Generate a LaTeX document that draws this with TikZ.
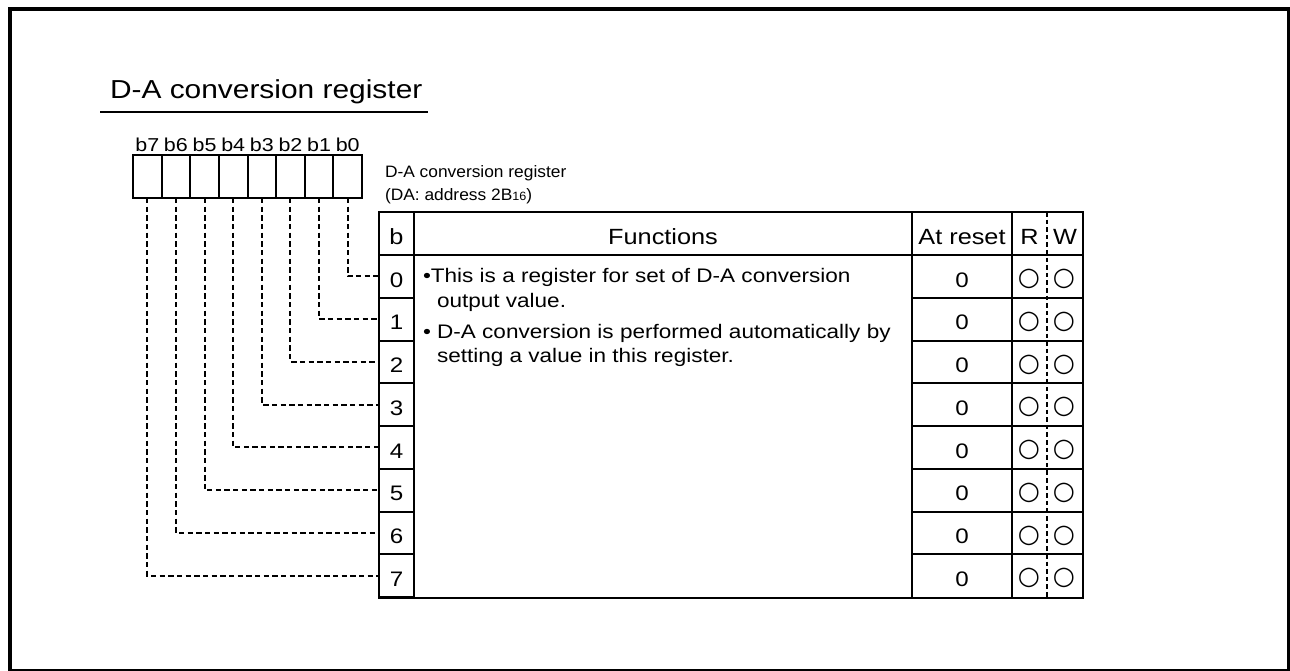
\documentclass[tikz,border=0pt]{standalone}
\usepackage{fontspec}
\setmainfont{Liberation Sans}[FakeStretch=1.15]
\newfontfamily\labfam{Liberation Sans}[FakeStretch=1.05]
\newfontfamily\symfam{DejaVu Sans}
\newcommand\fTitle{\fontsize{19.5pt}{23pt}\selectfont}
\newcommand\fBody{\fontsize{14.7pt}{18pt}\selectfont}
\newcommand\fHead{\fontsize{16.5pt}{19pt}\selectfont}
\newcommand\fNum{\fontsize{15.75pt}{18pt}\selectfont}
\newcommand\fBit{\fontsize{14pt}{16pt}\selectfont}
\newcommand\fLab{\labfam\fontsize{12.4pt}{14pt}\selectfont}
\newcommand\fSub{\fontsize{9pt}{10pt}\selectfont}
\begin{document}
\begin{tikzpicture}[x=0.75pt,y=-0.75pt,
  txt/.style={inner sep=0pt, outer sep=0pt},
  regbox/.style={draw, line width=1.5pt, minimum width=21.47pt, minimum height=32.25pt, inner sep=0pt, outer sep=0pt},
  bcell/.style={draw, line width=1.5pt, minimum width=26.25pt, minimum height=32.06pt, inner sep=0pt, outer sep=0pt},
  grid/.style={line width=1.5pt},
  conn/.style={line width=1.5pt, dash pattern=on 4pt off 2.5pt},
  rwsep/.style={line width=1pt, dash pattern=on 3.5pt off 2.2pt},
  mark0/.style={txt, font=\symfam\fontsize{19pt}{21pt}\selectfont}]
\useasboundingbox (0,0) rectangle (1290,671);
% outer frame
\draw[line width=3pt] (10,9) rectangle (1289,671);
% title
\node[txt, anchor=base west, font=\fTitle] (title) at (110,98) {D-A conversion register};
\draw[line width=1.1pt] (100,112) -- (428,112);
% register boxes
\foreach \i in {0,...,7}{
  \pgfmathsetmacro{\cx}{362-28.625*(\i+0.5)}
  \node[regbox] (bx\i) at (\cx,176.5) {};
  \node[txt, anchor=base, font=\fBit] (bl\i) at (\cx,151) {b\i};
}
% register label
\node[txt, anchor=base west, font=\fLab] (lab1) at (385,177) {D-A conversion register};
\node[txt, anchor=base west, font=\fLab] (lab2) at (385,200) {(DA: address 2B{\fSub 16})};
% table
\draw[grid] (379,212) rectangle (1083,597.5);
\draw[grid] (414,212) -- (414,597.5);
\draw[grid] (912,212) -- (912,597.5);
\draw[grid] (1012,212) -- (1012,597.5);
\draw[grid] (379,255) -- (1083,255);
\draw[rwsep] (1047,212) -- (1047,597.5);
\foreach \i in {1,...,7}{
  \draw[grid] (912,255+42.75*\i) -- (1083,255+42.75*\i);
}
% header
\node[txt, anchor=base, font=\fHead] (hb) at (396.5,244) {b};
\node[txt, anchor=base, font=\fHead] (hf) at (663,244) {Functions};
\node[txt, anchor=base, font=\fHead] (ha) at (962,244) {At reset};
\node[txt, anchor=base, font=\fHead] (hr) at (1029.5,244) {R};
\node[txt, anchor=base, font=\fHead] (hw) at (1065,244) {W};
% rows
\foreach \i in {0,...,7}{
  \pgfmathsetmacro{\ry}{255+42.75*\i}
  \node[bcell] (r\i) at (396.5,\ry+21.375) {};
  \node[txt, anchor=base, font=\fNum] (rn\i) at (396.5,\ry+32) {\i};
  \node[txt, anchor=base, font=\fNum] (rv\i) at (962,\ry+32) {0};
  \node[mark0] (cr\i) at (1029,\ry+24) {○};
  \node[mark0] (cw\i) at (1064,\ry+24) {○};
  \draw[conn] (bx\i.south) |- (r\i.west);
}
% functions text
\node[txt, anchor=base west, font=\fBody] (f1) at (423,282) {•This is a register for set of D-A conversion};
\node[txt, anchor=base west, font=\fBody] (f2) at (437,307) {output value.};
\node[txt, anchor=base west, font=\fBody] (f3) at (423,338) {• D-A conversion is performed automatically by};
\node[txt, anchor=base west, font=\fBody] (f4) at (437,362) {setting a value in this register.};
\end{tikzpicture}
\end{document}
